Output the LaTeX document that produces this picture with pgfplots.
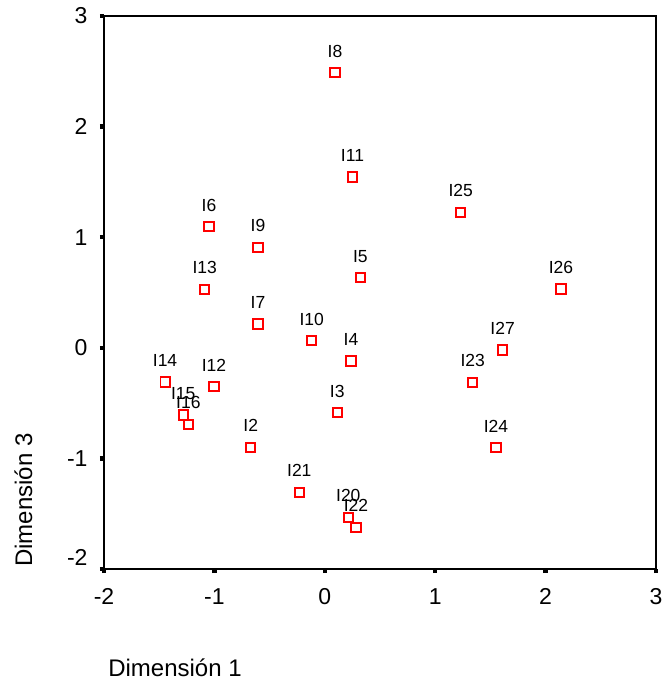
\documentclass[border=0pt]{standalone}
\usepackage{fontspec}
\setmainfont{Liberation Sans}
\usepackage{pgfplots}
\pgfplotsset{compat=1.18}
\begin{document}
\begin{tikzpicture}
\path[use as bounding box] (-104pt,-115pt) rectangle (561pt,569pt);
\begin{axis}[
 at={(0pt,0pt)}, anchor=south west,
 scale only axis, width=552pt, height=553pt,
 xmin=-2, xmax=3, ymin=-2, ymax=3,
 axis line style={line width=2pt, black},
 xtick={-2,-1,0,1,2,3},
 xticklabels={-2,-1,0,1,2,3},
 ytick={-1,0,1,2,3},
 yticklabels={-1,0,1,2,3},
 extra y ticks={-2},
 extra y tick labels={-2},
 extra y tick style={yticklabel style={yshift=12pt}},
 tick align=outside, xtick pos=left, ytick pos=left,
 major tick length=4pt,
 tick style={line width=4.5pt, black},
 ticklabel style={font=\fontsize{23}{27}\selectfont},
 xticklabel style={yshift=-12pt},
 yticklabel style={xshift=-9pt},
 clip=false,
 xlabel={Dimensión 1}, ylabel={Dimensión 3},
 label style={font=\fontsize{24}{28}\selectfont},
 xlabel style={at={(axis description cs:0.1286,-0.179)}, anchor=center},
 ylabel style={at={(axis description cs:-0.1462,0.1248)}, anchor=center},
 nodes near coords, point meta=explicit symbolic,
 every node near coord/.append style={font=\fontsize{17.5}{20}\selectfont, anchor=center, yshift=21.5pt, black, inner sep=0pt},
]
\addplot[only marks, mark=square*, mark size=4.6pt, mark options={draw=red, fill=white, line width=1.9pt}] table[meta=label] {
x y label
0.092 2.487 I8
0.251 1.544 I11
1.231 1.225 I25
-1.049 1.095 I6
-0.605 0.909 I9
0.322 0.634 I5
2.139 0.532 I26
-1.088 0.529 I13
-0.605 0.215 I7
-0.119 0.064 I10
1.611 -0.020 I27
0.237 -0.119 I4
-1.447 -0.309 I14
-1.004 -0.352 I12
1.340 -0.312 I23
-1.282 -0.608 I15
-1.236 -0.692 I16
0.113 -0.587 I3
-0.671 -0.900 I2
1.551 -0.903 I24
-0.231 -1.307 I21
0.213 -1.533 I20
0.283 -1.623 I22
};
\end{axis}
\end{tikzpicture}
\end{document}
